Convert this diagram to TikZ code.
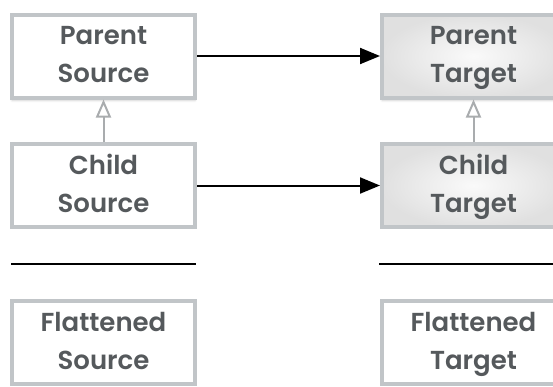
\documentclass[tikz,border=0pt]{standalone}
\usepackage{fontspec}
\setmainfont{Poppins}[UprightFont=* SemiBold]
\usetikzlibrary{arrows.meta,shadows.blur}
\definecolor{boxline}{HTML}{C1C5C8}
\definecolor{boxtext}{HTML}{55595C}
\definecolor{inherit}{HTML}{A9ACAE}
\newcommand{\twolines}[2]{\strut #1\\\strut #2}
\tikzset{
  box/.style={draw=boxline, line width=4pt, minimum width=183pt, minimum height=83pt,
    align=center, text=boxtext, font=\fontsize{26}{38}\selectfont, inner sep=0pt},
  srcbox/.style={box, fill=white},
  tgtbox/.style={box, inner color=gray!4, outer color=gray!24},
  lifted/.style={blur shadow={shadow xshift=0pt, shadow yshift=-3pt, shadow blur steps=6, shadow opacity=18}},
  maparrow/.style={line width=2pt, -{Triangle[length=20pt, width=16pt]}},
  inheritarrow/.style={draw=inherit, line width=2pt, -{Triangle[open, length=18pt, width=15pt, line width=2pt]}},
  divider/.style={line width=2pt}
}
\begin{document}
\begin{tikzpicture}[x=1pt, y=-1pt]
  \useasboundingbox (0,0) rectangle (553,386);
  \clip (0,0) rectangle (553,386);

  % source hierarchy
  \node[srcbox, lifted] (ps) at (103.5,56) {\twolines{Parent}{Source}};
  \node[srcbox] (cs) at (103.5,185.5) {\twolines{Child}{Source}};
  \node[srcbox] (fs) at (103.5,342.5) {\twolines{Flattened}{Source}};

  % target hierarchy
  \node[tgtbox, lifted] (pt) at (473.5,56) {\twolines{Parent}{Target}};
  \node[tgtbox] (ct) at (473.5,185.5) {\twolines{Child}{Target}};
  \node[srcbox] (ft) at (473.5,342.5) {\twolines{Flattened}{Target}};

  % inheritance
  \draw[inheritarrow] (cs.north) -- (ps.south);
  \draw[inheritarrow] (ct.north) -- (pt.south);

  % mappings
  \draw[maparrow] (ps.east) -- (pt.west);
  \draw[maparrow] (cs.east) -- (ct.west);

  % separators
  \coordinate (l1) at (11,264);
  \coordinate (l2) at (196,264);
  \coordinate (r1) at (379,264);
  \coordinate (r2) at (553,264);
  \draw[divider] (l1) -- (l2);
  \draw[divider] (r1) -- (r2);
\end{tikzpicture}
\end{document}
